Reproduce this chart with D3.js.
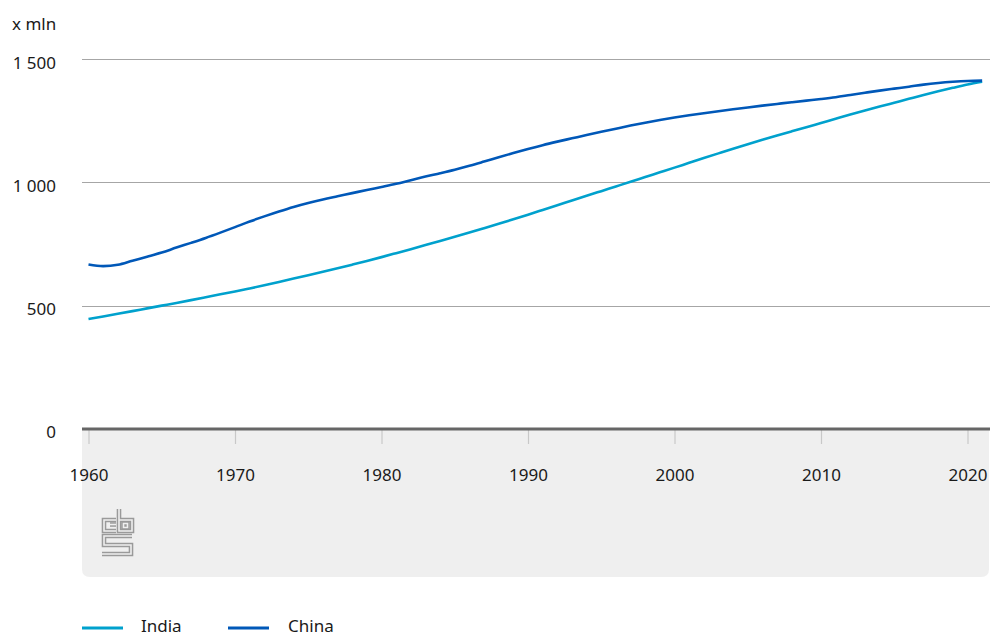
<!DOCTYPE html>
<html>
<head>
<meta charset="utf-8">
<script src="https://cdn.jsdelivr.net/npm/d3@7"></script>
<style>
  html, body { margin:0; padding:0; background:#fff; }
  svg { display:block; font-family: "Noto Sans", "Open Sans", sans-serif; }
</style>
</head>
<body>
<svg id="chart" width="990" height="637"></svg>
<script>
const years = d3.range(1960, 2022);
const india = [445.95,456.4,467.0,477.9,489.1,500.1,511.0,522.4,534.2,546.2,
  557.5,569.9,582.8,596.1,609.7,623.5,637.5,651.7,666.3,681.2,
  696.8,712.9,729.2,745.8,762.6,779.4,796.6,814.2,832.0,850.2,
  868.9,887.9,907.0,926.2,945.3,964.3,983.3,1002.3,1021.4,1040.5,
  1059.6,1079.0,1098.3,1117.4,1136.3,1154.6,1172.4,1189.7,1206.7,1223.6,
  1240.6,1257.6,1274.5,1291.1,1307.2,1322.9,1338.6,1354.2,1369.0,1383.1,
  1396.4,1407.6];
const china = [667.1,660.3,665.8,682.3,698.4,715.2,735.4,754.6,774.5,796.0,
  818.3,841.1,862.0,881.9,900.4,916.4,930.7,943.5,956.2,969.0,
  981.2,993.9,1008.6,1023.3,1036.8,1051.0,1066.8,1084.0,1101.6,1118.7,
  1135.2,1150.8,1165.0,1178.4,1191.8,1204.9,1217.6,1230.1,1241.9,1252.7,
  1262.6,1271.9,1280.4,1288.4,1296.1,1303.7,1311.0,1317.9,1324.7,1331.3,
  1337.7,1345.0,1354.2,1363.2,1371.9,1379.9,1387.8,1396.2,1402.8,1407.7,
  1411.1,1412.4];
const seriesNames = ["India", "China"];
const seriesColors = ["#00a1cd", "#0058b8"];
const yTicks = [0, 500, 1000, 1500];
const xTicks = [1960, 1970, 1980, 1990, 2000, 2010, 2020];
const yUnit = "x mln";

const svg = d3.select("#chart");
const textColor = "#1a1a1a";
const left = 82, right = 990;

const x = d3.scaleLinear().domain([1960, 2020]).range([88.5, 967.5]);
const y = d3.scaleLinear().domain([0, 1500]).range([429, 59]);

// grey footer box
const boxTop = 430, boxBottom = 577, boxRight = 989, r = 8;
svg.append("path")
  .attr("d", `M${left},${boxTop} H${boxRight} V${boxBottom - r} Q${boxRight},${boxBottom} ${boxRight - r},${boxBottom} H${left + r} Q${left},${boxBottom} ${left},${boxBottom - r} Z`)
  .attr("fill", "#efefef");

// CBS logo (double-line effect)
const logo = svg.append("g");
const logoPaths = [
  "M116,520 H104 V531 H116",
  "M110,524.5 H116",
  "M119,509 V531 H132 V520 H119",
  "M123.5,523.5 H127.5 V527.5 H123.5 Z",
  "M132,536 H104 V545 H131 V554 H102"
];
logoPaths.forEach(p => {
  logo.append("path").attr("d", p).attr("fill", "none")
    .attr("stroke", "#9a9a9a").attr("stroke-width", 4.6).attr("stroke-linejoin", "miter");
});
logoPaths.forEach(p => {
  logo.append("path").attr("d", p).attr("fill", "none")
    .attr("stroke", "#efefef").attr("stroke-width", 1.6).attr("stroke-linejoin", "miter");
});

// gridlines
svg.append("g").selectAll("line")
  .data(yTicks.filter(d => d !== 0))
  .join("line")
  .attr("x1", left).attr("x2", right)
  .attr("y1", d => Math.round(y(d)) + 0.5).attr("y2", d => Math.round(y(d)) + 0.5)
  .attr("stroke", "#a6a6a6").attr("stroke-width", 1);

// y axis labels
const locale = d3.formatLocale({ decimal: ",", thousands: " ", grouping: [3], currency: ["", ""] });
const fmt = locale.format(",d");
const yAxis = svg.append("g").attr("transform", "translate(56,0)")
  .call(d3.axisLeft(y).tickValues(yTicks).tickSize(0).tickPadding(0).tickFormat(fmt));
yAxis.select(".domain").remove();
yAxis.selectAll("text")
  .attr("x", 0).attr("dy", null).attr("y", d => d === 0 ? 8 : 9)
  .attr("fill", textColor).attr("font-size", 17)
  .attr("font-family", "Noto Sans, sans-serif")
  .attr("text-anchor", "end");

svg.append("text").attr("x", 12).attr("y", 30).text(yUnit)
  .attr("fill", textColor).attr("font-size", 17);

// x axis
const xAxis = svg.append("g").attr("transform", "translate(0,430)")
  .call(d3.axisBottom(x).tickValues(xTicks).tickSize(14).tickFormat(d3.format("d")));
xAxis.select(".domain").remove();
xAxis.selectAll(".tick line").attr("stroke", "#c8c8c8").attr("stroke-width", 1.2);
xAxis.selectAll("text")
  .attr("y", 51).attr("dy", null)
  .attr("fill", textColor).attr("font-size", 17)
  .attr("font-family", "Noto Sans, sans-serif");

// baseline
svg.append("line").attr("x1", left).attr("x2", right)
  .attr("y1", y(0)).attr("y2", y(0))
  .attr("stroke", "#666").attr("stroke-width", 3);

// lines
const line = d3.line().x((d, i) => x(years[i])).y(d => y(d)).curve(d3.curveMonotoneX);
[india, china].forEach((s, i) => {
  svg.append("path").datum(s)
    .attr("d", line)
    .attr("fill", "none")
    .attr("stroke", seriesColors[i])
    .attr("stroke-width", 2.6)
    .attr("stroke-linejoin", "round");
});

// legend
const legendPos = [{lx: 82, tx: 141}, {lx: 228, tx: 288}];
seriesNames.forEach((n, i) => {
  const p = legendPos[i];
  svg.append("line").attr("x1", p.lx).attr("x2", p.lx + 41)
    .attr("y1", 628).attr("y2", 628)
    .attr("stroke", seriesColors[i]).attr("stroke-width", 3);
  svg.append("text").attr("x", p.tx).attr("y", 632).text(n)
    .attr("fill", textColor).attr("font-size", 17);
});
</script>
</body>
</html>
